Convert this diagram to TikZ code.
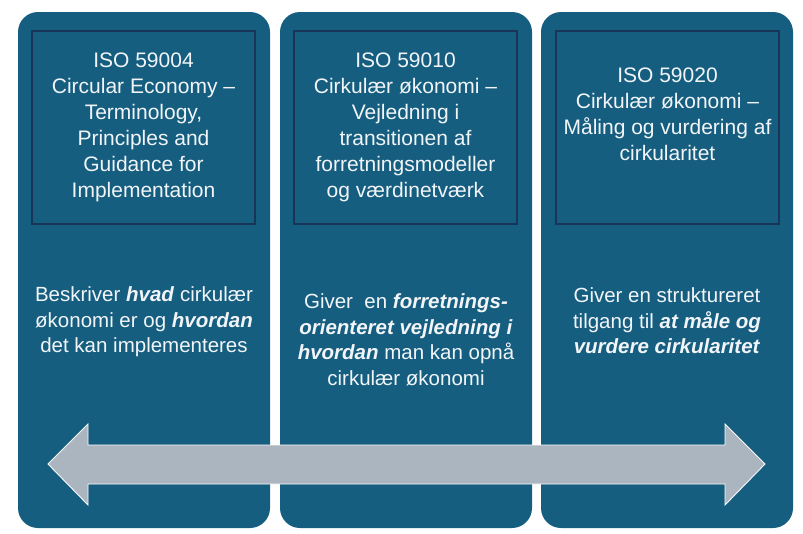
\documentclass[tikz,border=0pt]{standalone}
\usepackage{fontspec}
\setmainfont{Liberation Sans}
\usepackage{tikz}
\usetikzlibrary{positioning, calc}
\usepackage{xcolor}

\begin{document}
\begin{tikzpicture}[
    x=1pt, y=-1pt,
    % Define colors
    /utils/exec={
        \definecolor{isoTeal}{RGB}{22, 94, 128}
        \definecolor{isoNavy}{RGB}{24, 52, 86}
        \definecolor{isoText}{RGB}{242, 245, 248}
        \definecolor{isoArrow}{RGB}{171, 181, 192}
    },
    % Node Styles
    panel/.style={
        fill=isoTeal, draw=none, rounded corners=20pt,
        minimum width=252pt, minimum height=516pt
    },
    titlebox/.style={
        draw=isoNavy, line width=1.2pt, fill=isoTeal,
        minimum width=223pt, minimum height=193pt
    },
    titletext/.style={
        text=isoText, align=center,
        font=\fontsize{21}{26}\selectfont
    },
    desctext/.style={
        text=isoText, align=center,
        font=\fontsize{20.5}{25.5}\selectfont
    },
    bigarrow/.style={fill=isoArrow, draw=white!92!isoArrow, line width=0.9pt, line join=miter}
]

\useasboundingbox (0,0) rectangle (803,533);

% =================================================================
% PANELS
% =================================================================
\node[panel] (panelA) at (144,270) {};
\node[panel] (panelB) at (406,270) {};
\node[panel] (panelC) at (667,270) {};

% --- Title boxes ---
\node[titlebox] (boxA) at (143.5,127.5) {};
\node[titlebox] (boxB) at (405.5,127.5) {};
\node[titlebox] (boxC) at (667.5,127.5) {};

\node[titletext] (titleA) at (boxA) {ISO 59004\\Circular Economy --\\Terminology,\\Principles and\\Guidance for\\Implementation};
\node[titletext] (titleB) at (boxB) {ISO 59010\\Cirkulær økonomi --\\Vejledning i\\transitionen af\\forretningsmodeller\\og værdinetværk};
\node[titletext] (titleC) at ($(boxC)+(0,-13)$) {ISO 59020\\Cirkulær økonomi --\\Måling og vurdering af\\cirkularitet};

% --- Descriptions ---
\node[desctext] (descA) at (144,322) {Beskriver \textbf{\textit{hvad}} cirkulær\\økonomi er og \textbf{\textit{hvordan}}\\det kan implementeres};
\node[desctext] (descB) at (406,340) {Giver\ \ en \textbf{\textit{forretnings-}}\\\textbf{\textit{orienteret vejledning i}}\\\textbf{\textit{hvordan}} man kan opnå\\cirkulær økonomi};
\node[desctext] (descC) at (667,321) {Giver en struktureret\\tilgang til \textbf{\textit{at måle og}}\\\textbf{\textit{vurdere cirkularitet}}};

% =================================================================
% DOUBLE ARROW
% =================================================================
\draw[bigarrow] (48,464) -- (88,424) -- (88,445) -- (725,445) -- (725,424)
    -- (765,464) -- (725,505) -- (725,484) -- (88,484) -- (88,505) -- cycle;

\end{tikzpicture}
\end{document}
